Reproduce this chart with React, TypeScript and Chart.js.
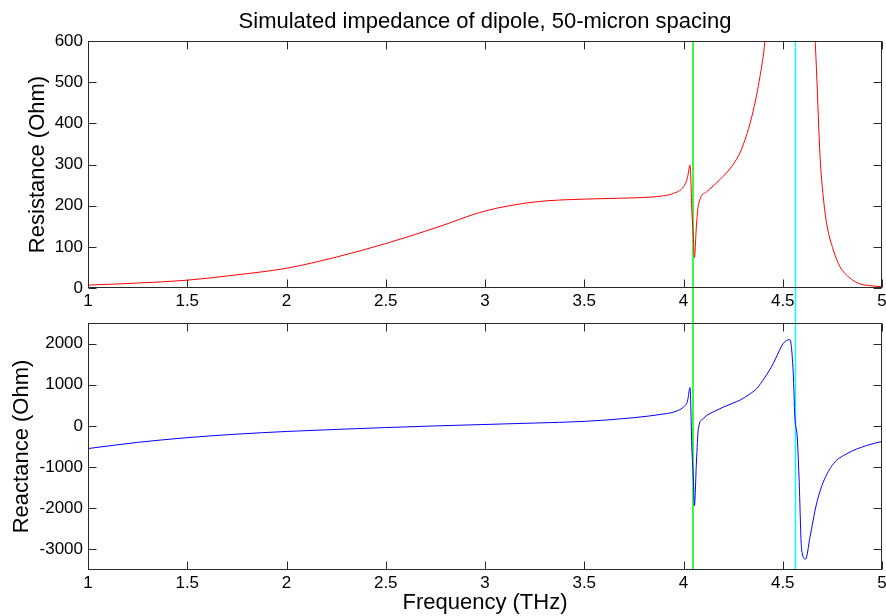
import React, { useEffect, useRef } from "react";
import { Chart, registerables } from "chart.js";

Chart.register(...registerables);

// ---------- text ----------
const TITLE = "Simulated impedance of dipole, 50-micron spacing";
const X_TITLE = "Frequency (THz)";
const Y_TITLE_TOP = "Resistance (Ohm)";
const Y_TITLE_BOTTOM = "Reactance (Ohm)";

// ---------- ticks ----------
const xTicks = [1, 1.5, 2, 2.5, 3, 3.5, 4, 4.5, 5];
const resTicks = [0, 100, 200, 300, 400, 500, 600];
const reaTicks = [-3000, -2000, -1000, 0, 1000, 2000];

// ---------- data ----------
const resFreq = [
  1.0, 1.25, 1.5, 1.75, 2.0, 2.25, 2.5, 2.75, 3.0, 3.25, 3.5, 3.75, 3.9, 3.95,
  4.0, 4.02, 4.033, 4.042, 4.05, 4.055, 4.065, 4.075, 4.117, 4.15, 4.217, 4.25,
  4.284, 4.32, 4.352, 4.385, 4.41, 4.45, 4.5, 4.55, 4.6, 4.64, 4.662, 4.67,
  4.688, 4.704, 4.721, 4.755, 4.788, 4.839, 4.889, 4.955, 5.0,
];
const resOhm = [
  7, 12, 19, 32, 48, 75, 108, 146, 187, 209, 216, 219, 224, 230,
  246, 268, 299, 190, 120, 74, 150, 201, 234, 248, 280, 300,
  328, 375, 432, 513, 598, 850, 1300, 2000, 1800, 1000, 620, 530,
  319, 222, 157, 92, 52, 24, 10, 5, 3,
];

const reaFreq = [
  1.0, 1.25, 1.5, 1.75, 2.0, 2.25, 2.5, 2.75, 3.0, 3.25, 3.5, 3.75, 3.9, 3.95,
  4.0, 4.02, 4.033, 4.042, 4.05, 4.055, 4.065, 4.075, 4.1, 4.117, 4.15, 4.2,
  4.25, 4.284, 4.33, 4.368, 4.41, 4.452, 4.48, 4.502, 4.536, 4.553, 4.561,
  4.573, 4.582, 4.595, 4.615, 4.637, 4.67, 4.704, 4.755, 4.822, 4.923, 5.0,
];
const reaOhm = [
  -550, -400, -285, -200, -135, -85, -40, 0, 35, 70, 110, 200, 290, 337,
  459, 600, 930, -520, -1300, -1940, -900, -64, 180, 255, 340, 455,
  555, 625, 760, 905, 1180, 1514, 1800, 2000, 2098, 1270, 215,
  -270, -1245, -3000, -3235, -2708, -1895, -1368, -920, -677, -475, -378,
];

// vertical marker frequencies
const markerFreqs = [4.048, 4.564];

// ---------- styles ----------
const FONT = '"Liberation Sans", Arial, Helvetica, sans-serif';
const MARKER_STYLE = [
  { color: "rgb(60,250,60)", width: 2 },
  { color: "rgb(0,255,255)", width: 1.3 },
];
const FRAME_COLOR = "#2a2a2a";
const TEXT_COLOR = "#000";
const TICK_LEN = 8;

const W = 886;
const TOP_H = 310;
const BOT_H = 306;

const markerPlugin = (isTop: boolean) => ({
  id: "markers",
  beforeDatasetsDraw(chart: any) {
    const { ctx, chartArea } = chart;
    const xs = chart.scales.x;
    ctx.save();
    markerFreqs.forEach((f, i) => {
      const st = MARKER_STYLE[i];
      let px = xs.getPixelForValue(f);
      px = st.width >= 2 ? Math.round(px) : Math.floor(px) + 0.5;
      ctx.strokeStyle = st.color;
      ctx.lineWidth = st.width;
      ctx.beginPath();
      ctx.moveTo(px, isTop ? chartArea.top : 0);
      ctx.lineTo(px, isTop ? chart.height : chartArea.bottom);
      ctx.stroke();
    });
    ctx.restore();
  },
});

const framePlugin = {
  id: "frame",
  afterDatasetsDraw(chart: any) {
    const { ctx, chartArea } = chart;
    const { left, right, top, bottom } = chartArea;
    const xs = chart.scales.x;
    const ys = chart.scales.y;
    const l = Math.round(left) + 0.5;
    const r = Math.round(right) - 0.5;
    const t = Math.round(top) + 0.5;
    const b = Math.round(bottom) - 0.5;
    ctx.save();
    ctx.strokeStyle = FRAME_COLOR;
    ctx.lineWidth = 1;
    ctx.strokeRect(l, t, r - l, b - t);
    ctx.beginPath();
    xs.ticks.forEach((tk: any) => {
      const px = Math.round(xs.getPixelForValue(tk.value)) + 0.5;
      ctx.moveTo(px, b);
      ctx.lineTo(px, b - TICK_LEN);
      ctx.moveTo(px, t);
      ctx.lineTo(px, t + TICK_LEN);
    });
    ys.ticks.forEach((tk: any) => {
      const py = Math.round(ys.getPixelForValue(tk.value)) + 0.5;
      ctx.moveTo(l, py);
      ctx.lineTo(l + TICK_LEN, py);
      ctx.moveTo(r, py);
      ctx.lineTo(r - TICK_LEN, py);
    });
    ctx.stroke();
    ctx.restore();
  },
};

const titlePlugin = {
  id: "mainTitle",
  afterDraw(chart: any) {
    const { ctx, chartArea } = chart;
    ctx.save();
    ctx.font = `22px ${FONT}`;
    ctx.fillStyle = TEXT_COLOR;
    ctx.textAlign = "center";
    ctx.textBaseline = "alphabetic";
    ctx.fillText(TITLE, (chartArea.left + chartArea.right) / 2, 28);
    ctx.restore();
  },
};

function makeConfig(isTop: boolean): any {
  const freq = isTop ? resFreq : reaFreq;
  const vals = isTop ? resOhm : reaOhm;
  const yTicks = isTop ? resTicks : reaTicks;
  const canvasH = isTop ? TOP_H : BOT_H;
  const areaBottom = isTop ? 288 : 570 - TOP_H;
  return {
    type: "line",
    data: {
      datasets: [
        {
          data: freq.map((f, i) => ({ x: f, y: vals[i] })),
          borderColor: isTop ? "#ff0000" : "#0000ff",
          borderWidth: 1,
          pointRadius: 0,
          cubicInterpolationMode: "monotone",
          fill: false,
        },
      ],
    },
    options: {
      animation: false,
      responsive: false,
      maintainAspectRatio: false,
      events: [],
      layout: { padding: { top: isTop ? 41 : 13, right: 4, left: 0, bottom: 0 } },
      plugins: {
        legend: { display: false },
        tooltip: { enabled: false },
        title: { display: false },
      },
      scales: {
        x: {
          type: "linear",
          min: 1,
          max: 5,
          grid: { display: false, drawTicks: false },
          border: { display: false },
          afterBuildTicks: (s: any) => {
            s.ticks = xTicks.map((v) => ({ value: v }));
          },
          afterFit: (s: any) => {
            s.height = canvasH - areaBottom;
            s.paddingLeft = 0;
            s.paddingRight = 0;
          },
          ticks: {
            autoSkip: false,
            maxRotation: 0,
            padding: 3,
            color: TEXT_COLOR,
            font: { family: FONT, size: 17 },
            callback: (v: any) => String(v),
          },
          title: {
            display: !isTop,
            text: X_TITLE,
            color: TEXT_COLOR,
            font: { family: FONT, size: 22 },
            padding: { top: 0, bottom: 0 },
          },
        },
        y: {
          type: "linear",
          min: isTop ? 0 : -3500,
          max: isTop ? 600 : 2500,
          grid: { display: false, drawTicks: false },
          border: { display: false },
          afterBuildTicks: (s: any) => {
            s.ticks = yTicks.map((v) => ({ value: v }));
          },
          afterFit: (s: any) => {
            s.width = 88;
            s.paddingTop = 0;
            s.paddingBottom = 0;
          },
          ticks: {
            autoSkip: false,
            padding: 5,
            color: TEXT_COLOR,
            font: { family: FONT, size: 17 },
            callback: (v: any) => String(v),
          },
          title: {
            display: true,
            text: isTop ? Y_TITLE_TOP : Y_TITLE_BOTTOM,
            color: TEXT_COLOR,
            font: { family: FONT, size: 22 },
            padding: { top: isTop ? 25 : 9, bottom: 0 },
          },
        },
      },
    },
    plugins: isTop
      ? [markerPlugin(true), framePlugin, titlePlugin]
      : [markerPlugin(false), framePlugin],
  };
}

export default function App() {
  const topRef = useRef<HTMLCanvasElement | null>(null);
  const botRef = useRef<HTMLCanvasElement | null>(null);

  useEffect(() => {
    const c1 = new Chart(topRef.current as HTMLCanvasElement, makeConfig(true));
    const c2 = new Chart(botRef.current as HTMLCanvasElement, makeConfig(false));
    return () => {
      c1.destroy();
      c2.destroy();
    };
  }, []);

  return (
    <div
      style={{
        position: "absolute",
        left: 0,
        top: 0,
        width: W,
        height: TOP_H + BOT_H,
        background: "#fff",
      }}
    >
      <canvas
        ref={topRef}
        width={W}
        height={TOP_H}
        style={{ display: "block", width: W, height: TOP_H }}
      />
      <canvas
        ref={botRef}
        width={W}
        height={BOT_H}
        style={{ display: "block", width: W, height: BOT_H }}
      />
    </div>
  );
}
